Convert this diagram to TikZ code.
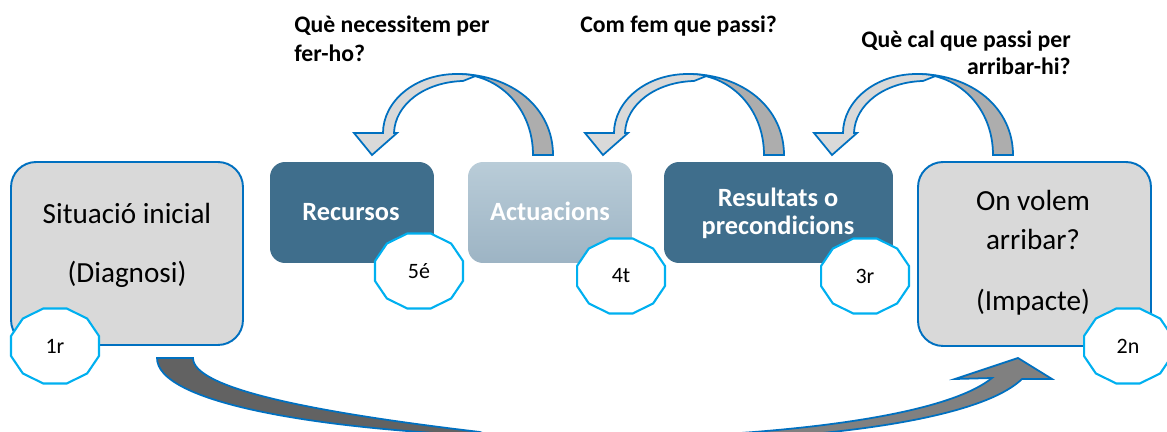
\documentclass[tikz,border=0pt]{standalone}
\usepackage{fontspec}
\setmainfont{Carlito}
\definecolor{bblue}{HTML}{0070C0}
\definecolor{cyanb}{HTML}{00B0F0}
\definecolor{boxgray}{HTML}{D9D9D9}
\definecolor{steel}{HTML}{3F6E8C}
\definecolor{actop}{HTML}{B9CCD8}
\definecolor{acbot}{HTML}{9DB4C4}
\definecolor{arlight}{HTML}{D9D9D9}
\definecolor{ardark}{HTML}{ADADAD}
\definecolor{bdark}{HTML}{626262}
\definecolor{bmid}{HTML}{808080}
\newcommand\bigtxt{\fontsize{16.6}{20}\selectfont}
\newcommand\boxtxt{\fontsize{15}{18}\selectfont\bfseries}
\newcommand\toptxt{\fontsize{13.5}{16}\selectfont\bfseries}
\newcommand\badgetxt{\fontsize{12.5}{14}\selectfont}
\tikzset{
  bigbox/.style={draw=bblue, line width=1.1pt, fill=boxgray, rounded corners=0.5cm},
  smallbox/.style={fill=steel, rounded corners=0.3cm},
  actbox/.style={top color=actop, bottom color=acbot, rounded corners=0.3cm},
  badgeline/.style={draw=cyanb, line width=1.2pt, fill=white},
  badgetext/.style={font=\badgetxt, inner sep=0pt},
  arrowline/.style={draw=bblue, line width=1pt, line join=miter},
  bigtext/.style={font=\bigtxt, anchor=base, inner sep=0pt},
  boxtext/.style={font=\boxtxt, text=white, anchor=base, inner sep=0pt},
  toptext/.style={font=\toptxt, inner sep=0pt},
}
\newcommand\mybadge[4]{%
  \draw[badgeline] plot[samples at={15,45,...,345}] ({#2+45.5*cos(\x)},{#3+38.8*sin(\x)}) -- cycle;
  \node[badgetext] (#1) at (#2,#3) {#4};}
\newcommand\toparrow[1]{%
  \begin{scope}[shift={(#1,0)}]
    \filldraw[arrowline, fill=ardark] (553,155) .. controls (553,108) and (512,74) .. (457,74)
      .. controls (499,74) and (533,108) .. (533,155) -- cycle;
    \filldraw[arrowline, fill=arlight] (476,75.8) .. controls (469,74.4) and (463,74) .. (457,74)
      .. controls (414,74) and (383,102) .. (383,133) -- (354,133) -- (372,155) -- (397,133) -- (394,133)
      .. controls (395,104) and (425,82) .. (463,81) -- cycle;
  \end{scope}}
\begin{document}
\begin{tikzpicture}[x=0.02cm, y=-0.02cm]
\useasboundingbox (0,0) rectangle (1167,432);
\clip (0,0) rectangle (1167,432);
\fill[white] (0,0) rectangle (1167,432);

% boxes
\node[bigbox, minimum width=4.64cm, minimum height=3.66cm] (sit) at (127,253.5) {};
\node[smallbox, minimum width=3.28cm, minimum height=2.02cm] (rec) at (352,212.5) {};
\node[actbox, minimum width=3.28cm, minimum height=2.02cm] (act) at (550,212.5) {};
\node[smallbox, minimum width=4.58cm, minimum height=2.02cm] (res) at (778.5,212.5) {};
\node[bigbox, minimum width=4.66cm, minimum height=3.68cm] (imp) at (1034.5,254) {};

% box texts
\node[bigtext] (sit1) at (127,224) {Situació inicial};
\node[bigtext] (sit2) at (127,283) {(Diagnosi)};
\node[bigtext] (imp1) at (1033,211) {On volem};
\node[bigtext] (imp2) at (1033,250) {arribar?};
\node[bigtext] (imp3) at (1033,311) {(Impacte)};
\node[boxtext] (rect) at (351,221) {Recursos};
\node[boxtext] (actt) at (550,221) {Actuacions};
\node[boxtext] (res1) at (778,207) {Resultats o};
\node[boxtext] (res2) at (778,235) {precondicions};

% top questions
\node[toptext, anchor=base west] (q1a) at (294,33) {Què necessitem per};
\node[toptext, anchor=base west] (q1b) at (294,62) {fer-ho?};
\node[toptext, anchor=base west] (q2) at (580,33) {Com fem que passi?};
\node[toptext, anchor=base east] (q3a) at (1071,48) {Què cal que passi per};
\node[toptext, anchor=base east] (q3b) at (1071,75) {arribar-hi?};

% top curved arrows
\toparrow{0}
\toparrow{231}
\toparrow{460}

% bottom curved arrow
\filldraw[arrowline, fill=bdark] (157,358) .. controls (157,400) and (300,428) .. (490,436)
  -- (480,432) .. controls (310,412) and (193,388) .. (193,358) -- cycle;
\filldraw[arrowline, fill=bmid] (726,434) .. controls (850,426) and (955,408) .. (992,378)
  -- (955,379) -- (1018,358) -- (1052,379) -- (1022,379)
  .. controls (990,410) and (890,430) .. (760,438) -- cycle;

% badges
\mybadge{b1}{55}{346}{1r}
\mybadge{b5}{419}{271}{5é}
\mybadge{b4}{621}{276}{4t}
\mybadge{b3}{865}{276}{3r}
\mybadge{b2}{1128}{346}{2n}
\end{tikzpicture}
\end{document}
